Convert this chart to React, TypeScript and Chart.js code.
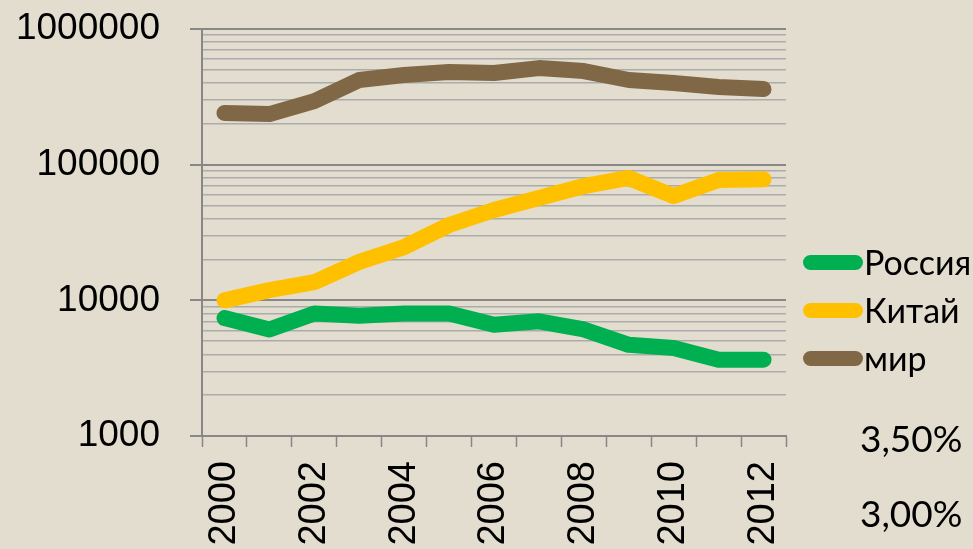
import React, { useEffect, useRef } from "react";
import { Chart, registerables } from "chart.js";

Chart.register(...registerables);

const years = ["2000","2001","2002","2003","2004","2005","2006","2007","2008","2009","2010","2011","2012"];
const russia = [7400, 6100, 8000, 7700, 8000, 8000, 6600, 7000, 6100, 4700, 4450, 3650, 3650];
const china = [10000, 11900, 13600, 19200, 24700, 35900, 46300, 56800, 69600, 79800, 58700, 77100, 78000];
const world = [240000, 236000, 294000, 421000, 458000, 482000, 474000, 515000, 490000, 421000, 400000, 374000, 361000];
const seriesNames = ["Россия", "Китай", "мир"];
const seriesColors = ["#00b050", "#ffc000", "#806846"];
const yTicks = [1000, 10000, 100000, 1000000];
const extraLabels = ["3,50%", "3,00%"];

const isMajor = (v: number) => Math.abs(Math.log10(v) - Math.round(Math.log10(v))) < 1e-9;

export default function App() {
  const ref = useRef<HTMLCanvasElement | null>(null);
  useEffect(() => {
    if (!ref.current) return;
    const minorTicks: number[] = [];
    for (let d = yTicks[0]; d < yTicks[yTicks.length - 1]; d *= 10) {
      for (let m = 1; m < 10; m++) minorTicks.push(d * m);
    }
    minorTicks.push(yTicks[yTicks.length - 1]);
    const chart = new Chart(ref.current, {
      type: "line",
      data: {
        labels: years,
        datasets: [russia, china, world].map((d, i) => ({
          label: seriesNames[i],
          data: d,
          borderColor: seriesColors[i],
          backgroundColor: seriesColors[i],
          borderWidth: 16,
          borderCapStyle: "round",
          borderJoinStyle: "round",
          pointRadius: 0,
          tension: 0,
          fill: false,
        })),
      },
      options: {
        animation: false,
        responsive: false,
        maintainAspectRatio: false,
        layout: { padding: { top: 29, right: 187, left: 0, bottom: 0 } },
        plugins: { legend: { display: false }, tooltip: { enabled: false } },
        scales: {
          x: {
            type: "category",
            offset: true,
            grid: {
              offset: true,
              drawOnChartArea: false,
              drawTicks: true,
              tickLength: 11,
              tickColor: "#878787",
              tickWidth: 1.5,
            },
            border: { color: "#878787", width: 2 },
            ticks: {
              autoSkip: false,
              minRotation: 90,
              maxRotation: 90,
              padding: 14,
              color: "#000",
              font: { family: "'Liberation Sans', Arial, sans-serif", size: 38 },
              callback: (_v: any, i: number) => (i % 2 === 0 ? years[i] : ""),
            },
            afterFit: (s: any) => {
              s.height = 113;
              s.paddingLeft = 0; s.paddingRight = 0; s.paddingTop = 0; s.paddingBottom = 0;
            },
          },
          y: {
            type: "logarithmic",
            min: 1000,
            max: 1000000,
            afterBuildTicks: (s: any) => {
              s.ticks = minorTicks.map((v) => ({ value: v, major: isMajor(v) }));
            },
            grid: {
              color: (c: any) => (isMajor(c.tick.value) ? "#878787" : "#ababab"),
              lineWidth: (c: any) => (isMajor(c.tick.value) ? 2 : 1.5),
              tickColor: (c: any) => (isMajor(c.tick.value) ? "#878787" : "rgba(0,0,0,0)"),
              tickLength: 12,
            },
            border: { color: "#878787", width: 2 },
            ticks: {
              padding: 30,
              color: "#000",
              font: { family: "'Liberation Sans', Arial, sans-serif", size: 37 },
              autoSkip: false,
              callback: (v: any) => (isMajor(Number(v)) ? String(v) : ""),
            },
            afterFit: (s: any) => {
              s.width = 202;
              s.paddingLeft = 0; s.paddingRight = 0; s.paddingTop = 0; s.paddingBottom = 0;
            },
          },
        },
      },
    });
    return () => chart.destroy();
  }, []);

  const legendFont = "Lato, 'Noto Sans', sans-serif";
  return (
    <div style={{ position: "fixed", left: 0, top: 0, width: 973, height: 549, background: "#e3ddd0", overflow: "hidden" }}>
      <canvas ref={ref} width={973} height={549} style={{ position: "absolute", left: 0, top: 0 }} />
      {seriesNames.map((n, i) => (
        <div key={n} style={{ position: "absolute", left: 803, top: 262 + i * 48 - 20, height: 40, display: "flex", alignItems: "center" }}>
          <div style={{ width: 60, height: 15, borderRadius: 7.5, background: seriesColors[i] }} />
          <span style={{ fontFamily: legendFont, fontSize: 34, color: "#000", marginLeft: 1, lineHeight: "40px" }}>{n}</span>
        </div>
      ))}
      {extraLabels.map((t, i) => (
        <div key={t} style={{ position: "absolute", left: 860, top: 438 + i * 75 - 20, height: 40, lineHeight: "40px", fontFamily: legendFont, fontSize: 37, color: "#000" }}>{t}</div>
      ))}
    </div>
  );
}
